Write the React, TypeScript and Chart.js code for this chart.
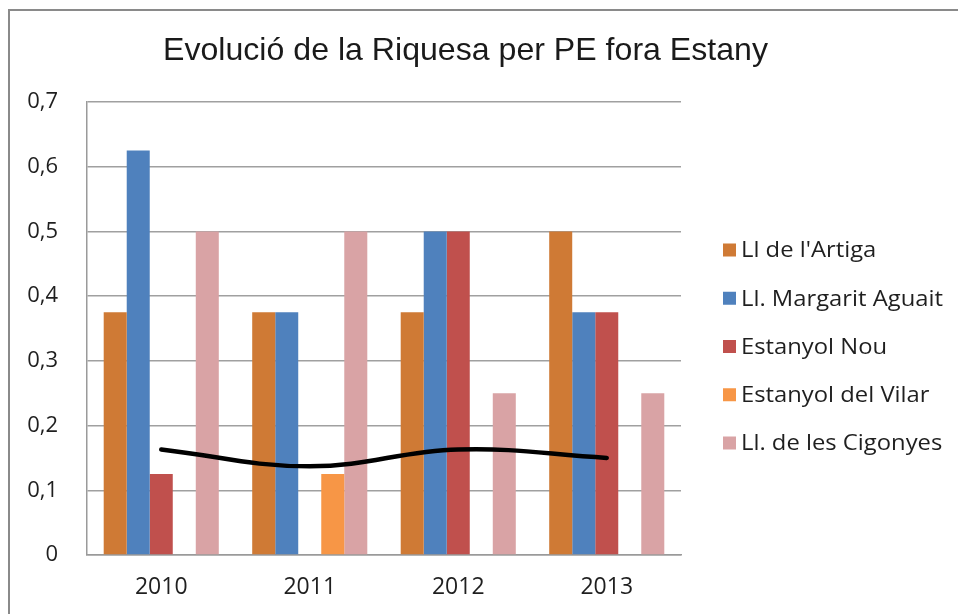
import React, { useEffect, useRef } from "react";
import { Chart, registerables } from "chart.js";

Chart.register(...registerables);

const TITLE = "Evolució de la Riquesa per PE fora Estany";
const categories = ["2010", "2011", "2012", "2013"];
const seriesNames = [
  "Ll de l'Artiga",
  "Ll. Margarit Aguait",
  "Estanyol Nou",
  "Estanyol del Vilar",
  "Ll. de les Cigonyes",
];
const artiga = [0.375, 0.375, 0.375, 0.5];
const margarit = [0.625, 0.375, 0.5, 0.375];
const nou = [0.125, null, 0.5, 0.375];
const vilar = [null, 0.125, null, null];
const cigonyes = [0.5, 0.5, 0.25, 0.25];
const trend = [0.163, 0.137, 0.163, 0.15];
const seriesColors = ["#CF7A35", "#4F81BD", "#C0504D", "#F79646", "#D9A3A5"];
const yTicksMax = 0.7;
const yStep = 0.1;

const overlayPlugin = {
  id: "overlayText",
  afterDraw(chart: any) {
    const ctx = chart.ctx;
    ctx.save();
    ctx.fillStyle = "#1a1a1a";
    ctx.font = "32px 'Liberation Sans', Arial, sans-serif";
    ctx.textAlign = "center";
    ctx.textBaseline = "middle";
    const tw = ctx.measureText(TITLE).width;
    ctx.translate(465.5, 51);
    ctx.scale(605 / tw, 1);
    ctx.fillText(TITLE, 0, 0);
    ctx.restore();

    ctx.save();
    ctx.font = "22px 'Open Sans', sans-serif";
    ctx.textBaseline = "middle";
    ctx.textAlign = "left";
    const ref = ctx.measureText("Ll. Margarit Aguait").width;
    const fx = 202 / ref;
    const bars = chart.data.datasets.filter((d: any) => d.type !== "line");
    bars.forEach((d: any, i: number) => {
      const cy = 250 + i * 48.25;
      ctx.fillStyle = d.backgroundColor;
      ctx.fillRect(723, cy - 6.5, 13, 13);
      ctx.fillStyle = "#1f1f1f";
      ctx.save();
      ctx.translate(741, cy + 1);
      ctx.scale(fx, 1);
      ctx.fillText(d.label, 0, 0);
      ctx.restore();
    });
    ctx.restore();
  },
};

export default function App() {
  const ref = useRef<HTMLCanvasElement | null>(null);
  useEffect(() => {
    if (!ref.current) return;
    const barSeries = [artiga, margarit, nou, vilar, cigonyes];
    const chart = new Chart(ref.current, {
      type: "bar",
      data: {
        labels: categories,
        datasets: [
          {
            type: "line",
            label: "Tendència",
            data: trend,
            borderColor: "#000000",
            backgroundColor: "#000000",
            borderWidth: 4.5,
            tension: 0.4,
            pointRadius: 0,
            borderCapStyle: "round",
            fill: false,
            order: 0,
          } as any,
          ...barSeries.map((vals, i) => ({
            type: "bar",
            label: seriesNames[i],
            data: vals,
            backgroundColor: seriesColors[i],
            borderWidth: 0,
            categoryPercentage: 0.775,
            barPercentage: 1,
            order: 1,
          })),
        ],
      },
      options: {
        responsive: false,
        animation: false,
        layout: { padding: { left: 0, top: 102, right: 277, bottom: 0 } },
        plugins: {
          legend: { display: false },
          title: { display: false },
          tooltip: { enabled: false },
        },
        scales: {
          x: {
            grid: { display: false, drawTicks: false },
            border: { display: true, color: "#9a9a9a", width: 1.5 },
            ticks: {
              color: "#1f1f1f",
              font: { family: "'Open Sans', sans-serif", size: 23 },
              padding: 19,
            },
            afterFit(scale: any) {
              scale.height = 59;
            },
          },
          y: {
            min: 0,
            max: yTicksMax,
            ticks: {
              stepSize: yStep,
              color: "#1f1f1f",
              font: { family: "'Open Sans', sans-serif", size: 22 },
              padding: 29,
              callback: (v: any) => {
                const r = Math.round(Number(v) * 10) / 10;
                return r === 0 ? "0" : String(r).replace(".", ",");
              },
            },
            grid: { color: "#a0a0a0", lineWidth: 1.5, drawTicks: false },
            border: { display: true, color: "#9a9a9a", width: 1.5 },
            afterFit(scale: any) {
              scale.width = 87;
            },
          },
        },
      },
      plugins: [overlayPlugin],
    });
    return () => chart.destroy();
  }, []);

  return (
    <div
      style={{
        position: "fixed",
        left: 0,
        top: 0,
        width: 958,
        height: 614,
        overflow: "hidden",
        background: "#ffffff",
      }}
    >
      <div
        style={{
          position: "absolute",
          left: 8,
          top: 9,
          width: 980,
          height: 640,
          border: "2px solid #8a8a8a",
          boxSizing: "border-box",
        }}
      />
      <canvas
        ref={ref}
        width={958}
        height={614}
        style={{ position: "absolute", left: 0, top: 0, width: 958, height: 614 }}
      />
    </div>
  );
}
